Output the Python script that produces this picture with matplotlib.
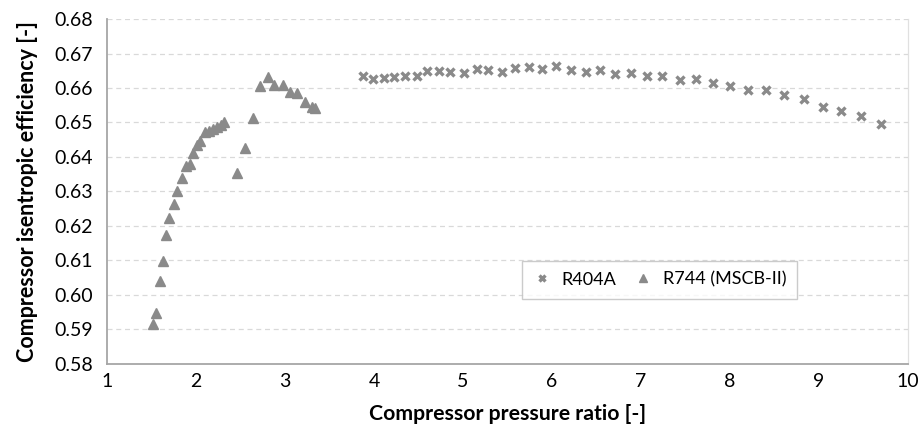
import numpy as np
import matplotlib.pyplot as plt

plt.rcParams['font.family'] = ['Lato', 'DejaVu Sans']

# R404A data
r404a_ratio = [3.88, 3.99, 4.11, 4.23, 4.35, 4.48, 4.60, 4.73, 4.86, 5.01, 5.16, 5.28,
               5.44, 5.58, 5.74, 5.89, 6.05, 6.21, 6.38, 6.54, 6.71, 6.89, 7.07, 7.24,
               7.44, 7.62, 7.81, 8.00, 8.20, 8.40, 8.61, 8.83, 9.04, 9.25, 9.47, 9.70]
r404a_eff = [0.6636, 0.6627, 0.6628, 0.6631, 0.6634, 0.6636, 0.6650, 0.6649, 0.6646, 0.6643,
             0.6654, 0.6653, 0.6646, 0.6657, 0.6662, 0.6654, 0.6663, 0.6653, 0.6646, 0.6651,
             0.6641, 0.6645, 0.6634, 0.6636, 0.6624, 0.6627, 0.6615, 0.6605, 0.6593, 0.6593,
             0.6581, 0.6567, 0.6544, 0.6533, 0.6518, 0.6496]

# R744 (MSCB-II) data
r744_ratio = [1.52, 1.55, 1.60, 1.63, 1.67, 1.70, 1.75, 1.79, 1.84, 1.89, 1.93, 1.97,
              2.01, 2.05, 2.10, 2.15, 2.19, 2.24, 2.28, 2.32, 2.46, 2.55, 2.64, 2.72,
              2.81, 2.88, 2.98, 3.06, 3.14, 3.23, 3.31, 3.34]
r744_eff = [0.5915, 0.5948, 0.6040, 0.6097, 0.6173, 0.6222, 0.6262, 0.6301, 0.6339, 0.6373,
            0.6380, 0.6411, 0.6436, 0.6445, 0.6471, 0.6475, 0.6482, 0.6488, 0.6493, 0.6501,
            0.6353, 0.6425, 0.6514, 0.6606, 0.6631, 0.6608, 0.6609, 0.6587, 0.6585, 0.6558,
            0.6545, 0.6541]

yticks = np.arange(0.58, 0.6801, 0.01)

fig = plt.figure(figsize=(9.21, 4.34), dpi=100)
ax = fig.add_axes([0.116, 0.162, 0.870, 0.794])

col = '#8a8a8a'
ax.plot(r404a_ratio, r404a_eff, linestyle='none', marker='x', markersize=5.5,
        markeredgewidth=2.4, color=col, label='R404A', zorder=3)
ax.plot(r744_ratio, r744_eff, linestyle='none', marker='^', markersize=7.5,
        color=col, markeredgecolor=col, label='R744 (MSCB-II)', zorder=3)

ax.set_xlim(1, 10)
ax.set_ylim(0.58, 0.68)
ax.set_xticks(np.arange(1, 11, 1))
ax.set_yticks(yticks)
ax.set_yticklabels(['%.2f' % v for v in yticks])

ax.yaxis.grid(True, color='#d9d9d9', linestyle=(0, (4, 3)), linewidth=0.9)
ax.set_axisbelow(True)
ax.tick_params(length=0, labelsize=14, colors='#000000')
ax.tick_params(axis='y', pad=10)
ax.tick_params(axis='x', pad=7)

for s in ['left', 'bottom']:
    ax.spines[s].set_color('#a6a6a6')
    ax.spines[s].set_linewidth(1.3)
ax.spines['top'].set_visible(False)
ax.spines['right'].set_color('#e0e0e0')
ax.spines['right'].set_linewidth(0.9)

ax.set_xlabel('Compressor pressure ratio [-]', fontsize=15.3, fontweight='bold', labelpad=10)
ax.set_ylabel('Compressor isentropic efficiency [-]', fontsize=15.5, fontweight='bold', labelpad=12)

leg = ax.legend(loc='upper left', bbox_to_anchor=(0.5065, 0.325), ncol=2, fontsize=13,
                frameon=True, fancybox=False, edgecolor='#bfbfbf', handletextpad=0.6,
                columnspacing=1.0, markerscale=0.75, borderpad=0.6, handlelength=1.0)
leg.get_frame().set_linewidth(1.0)

plt.savefig('out.png', dpi=100)
